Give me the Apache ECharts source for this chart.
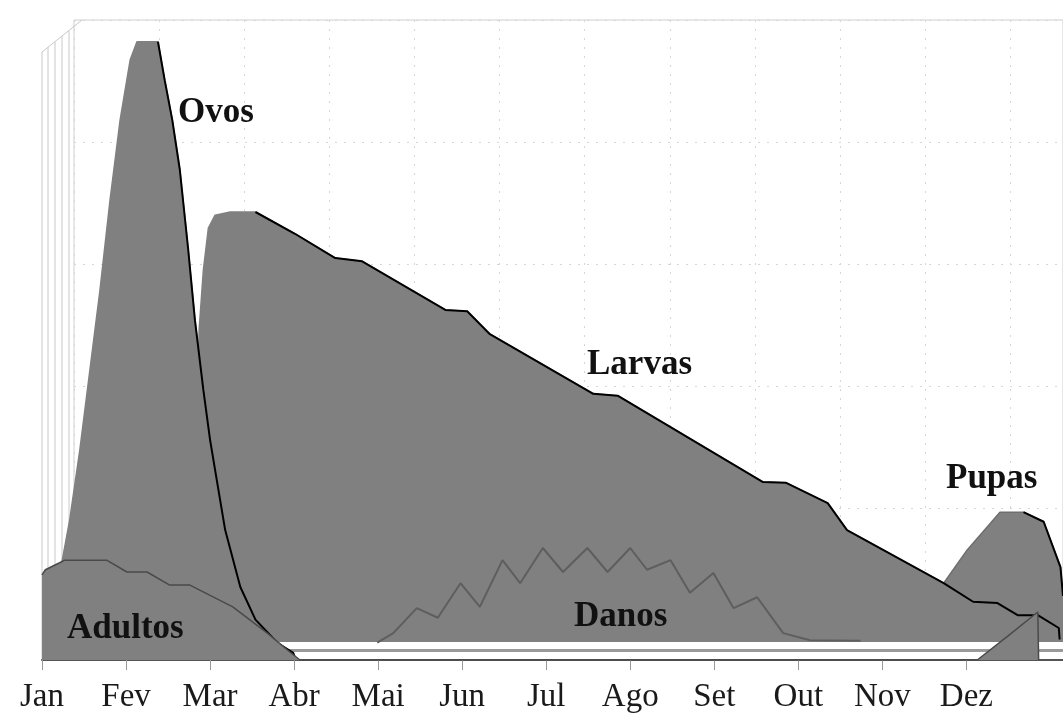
<!DOCTYPE html>
<html>
<head>
<meta charset="utf-8">
<script src="https://cdn.jsdelivr.net/npm/echarts@6/dist/echarts.min.js"></script>
<style>html,body{margin:0;padding:0;background:#fff}#c{width:1063px;height:713px}</style>
</head>
<body>
<div id="c"></div>
<script>
// Month tick labels (x = months since start of Jan)
const months = ['Jan','Fev','Mar','Abr','Mai','Jun','Jul','Ago','Set','Out','Nov','Dez'];

// Series values: [month position, relative level 0-100]
const adultos = [[0,13.3],[0.04,14.1],[0.21,15.2],[0.27,15.6],[0.77,15.6],[1.01,13.75],[1.25,13.75],[1.52,11.7],[1.76,11.7],[2.27,8.3],[2.68,4.2],[2.95,1.25],[3.07,0],[11.13,0],[11.5,3.8],[11.85,7.5],[11.86,0]];
const ovos = [[0.15,10],[0.24,15.5],[0.33,21.9],[0.45,32.8],[0.57,45.3],[0.69,57.8],[0.81,71.9],[0.93,84.4],[1.05,93.8],[1.13,96.6],[1.38,96.6],[1.46,90.6],[1.55,84.4],[1.64,76.6],[1.74,64.1],[1.82,53.1],[1.92,42.2],[2.0,34.4],[2.08,28.1],[2.18,20.3],[2.36,11.4],[2.54,6.3],[2.80,2.7],[2.99,1.1],[3.02,0]];
const larvas = [[1.83,0],[1.85,37.5],[1.87,51.6],[1.92,60.9],[1.98,67.5],[2.06,69.5],[2.24,70.0],[2.54,70.0],[3.01,66.6],[3.49,62.8],[3.81,62.3],[4.80,54.7],[5.06,54.5],[5.33,50.9],[6.56,41.6],[6.85,41.3],[8.58,27.8],[8.85,27.7],[9.35,24.5],[9.58,20.3],[10.73,12.0],[11.08,9.1],[11.37,8.9],[11.61,7.0],[11.85,7.0],[12.10,5.0],[12.11,3.2]];
const pupas = [[10.6,10],[10.73,12.0],[11.01,17.2],[11.40,23.1],[11.68,23.1],[11.92,21.6],[12.12,14.5],[12.15,10]];
const danos = [[3.99,2.7],[4.18,4.2],[4.46,8.1],[4.71,6.6],[4.98,12.0],[5.21,8.3],[5.48,15.6],[5.69,12.0],[5.96,17.5],[6.20,13.75],[6.49,17.5],[6.73,13.75],[7.00,17.5],[7.20,14.1],[7.48,15.6],[7.71,10.5],[7.99,13.6],[8.23,8.1],[8.51,9.8],[8.82,4.2],[9.14,3.1],[9.74,3.0]];

// index from which each outline is drawn dark
const ovosEdgeFrom = 10, larvasEdgeFrom = 7, pupasEdgeFrom = 4;

const FILL = '#808080';
const monthTicks = months.map(function(m,i){ return i; });
const chart = echarts.init(document.getElementById('c'), null, {renderer:'canvas'});

const labelFont = 'bold 35px "Liberation Serif", "Times New Roman", serif';
function lbl(text, x, y){
  return {type:'text', left:x, top:y, z:100, style:{text:text, font:labelFont, fill:'#111', textVerticalAlign:'top'}};
}
const wall = '#c8c8c8';
function vline(x, y1){
  return {type:'line', z:0, shape:{x1:x,y1:y1,x2:x,y2:660}, style:{stroke:wall, lineWidth:1}};
}
function area(name, data, z, lineColor, origin){
  const s = {name:name, type:'line', data:data, z:z, showSymbol:false,
    lineStyle:{width:1.5, color:lineColor}, areaStyle:{color:FILL, opacity:1}};
  if (origin !== undefined) s.areaStyle.origin = origin;
  return s;
}
function edge(name, data, z, color, w){
  return {name:name, type:'line', data:data, z:z, showSymbol:false, silent:true,
    lineStyle:{width:w, color:color}};
}

const larvasSeries = area('Larvas', larvas, 3, FILL, 2.8);
larvasSeries.markLine = {silent:true, z:3, symbol:'none', label:{show:false},
  lineStyle:{color:'#9a9a9a', width:3, type:'solid'}, data:[{yAxis:1.5}]};

chart.setOption({
  animation:false,
  backgroundColor:'#ffffff',
  grid:[
    {left:42, right:0, top:20, bottom:53, outerBoundsMode:'none', containLabel:false},
    {left:74, right:0, top:20, bottom:83, outerBoundsMode:'none', containLabel:false, show:true, borderColor:'#cfcfcf', borderWidth:1, backgroundColor:'transparent'}
  ],
  xAxis:[
    {type:'value', gridIndex:0, min:0, max:12.15, interval:1,
     axisLine:{show:true, onZero:false, lineStyle:{color:'#555', width:2}},
     axisTick:{show:true, length:10, customValues:monthTicks, lineStyle:{color:'#999'}},
     axisLabel:{margin:21, customValues:monthTicks, color:'#1a1a1a', fontFamily:'"Liberation Serif", "Times New Roman", serif', fontSize:33,
       formatter:function(v){ const i=Math.round(v); return months[i] || ''; }},
     splitLine:{show:false}},
    {type:'value', gridIndex:1, min:0, max:11.62, interval:1,
     axisLine:{show:false}, axisTick:{show:false}, axisLabel:{show:false},
     splitLine:{show:true, lineStyle:{color:'#d6d6d6', type:[2,7], width:1}}}
  ],
  yAxis:[
    {type:'value', gridIndex:0, min:0, max:100, show:false, splitLine:{show:false}},
    {type:'value', gridIndex:1, min:0, max:5, interval:1,
     axisLine:{show:false}, axisTick:{show:false}, axisLabel:{show:false},
     splitLine:{show:true, lineStyle:{color:'#d6d6d6', type:[2,7], width:1}}}
  ],
  series:[
    area('Pupas', pupas, 2, '#6e6e6e', 2.8),
    edge('Pupas', pupas.slice(pupasEdgeFrom), 2, '#000', 2),
    larvasSeries,
    edge('Larvas', larvas.slice(larvasEdgeFrom), 3, '#000', 2),
    {name:'Danos', type:'line', data:danos, z:4, showSymbol:false, lineStyle:{width:2, color:'#5e5e5e'}},
    area('Ovos', ovos, 5, FILL),
    edge('Ovos', ovos.slice(ovosEdgeFrom), 5, '#000', 2),
    area('Adultos', adultos, 6, '#4a4a4a')
  ],
  graphic:[
    {type:'line', z:0, shape:{x1:42,y1:52,x2:82,y2:20}, style:{stroke:wall, lineWidth:1}},
    vline(42,52), vline(48,47), vline(55,42), vline(62,36), vline(69,31),
    lbl('Ovos', 178, 95),
    lbl('Larvas', 587, 347),
    lbl('Pupas', 946, 461),
    lbl('Adultos', 67, 611),
    lbl('Danos', 574, 599)
  ]
});
</script>
</body>
</html>
